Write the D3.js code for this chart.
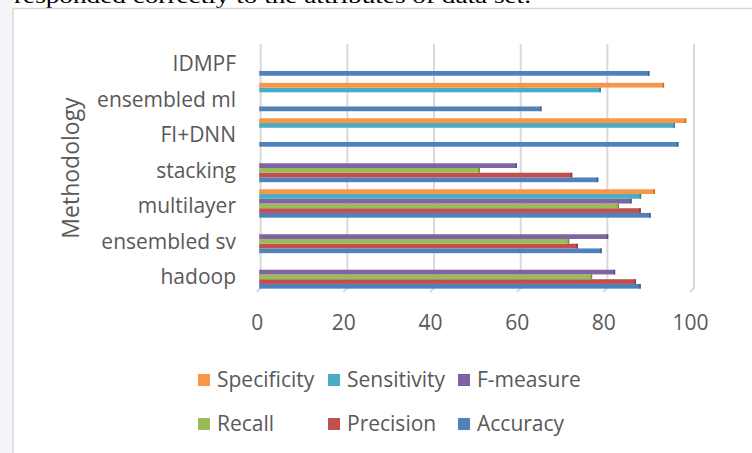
<!DOCTYPE html>
<html>
<head>
<meta charset="utf-8">
<script src="https://cdn.jsdelivr.net/npm/d3@7"></script>
<style>
  html, body { margin: 0; padding: 0; background: #ffffff; }
  svg { display: block; }
</style>
</head>
<body>
<svg id="chart" width="752" height="453"></svg>
<script>
// ---- data ----
const categories = ["hadoop", "ensembled sv", "multilayer", "stacking", "FI+DNN", "ensembled ml", "IDMPF"];
const seriesNames = ["Accuracy", "Precision", "Recall", "F-measure", "Sensitivity", "Specificity"];
const accuracy    = [87.7, 78.7, 90.0, 77.9, 96.4, 64.8, 89.7];
const precision   = [86.6, 73.2, 87.7, 71.9, null, null, null];
const recall      = [76.5, 71.2, 82.7, 50.6, null, null, null];
const fMeasure    = [81.8, 80.2, 85.6, 59.1, null, null, null];
const sensitivity = [null, null, 87.8, null, 95.6, 78.5, null];
const specificity = [null, null, 91.0, null, 98.2, 93.1, null];
const xTicks = [0, 20, 40, 60, 80, 100];
const legendRow1 = ["Specificity", "Sensitivity", "F-measure"];
const legendRow2 = ["Recall", "Precision", "Accuracy"];
const axisTitle = "Methodology";
const headerText = "responded correctly to the attributes of data set.";

const seriesValues = {
  "Accuracy": accuracy, "Precision": precision, "Recall": recall,
  "F-measure": fMeasure, "Sensitivity": sensitivity, "Specificity": specificity
};
const colors = {
  "Accuracy": "#4f81bd", "Precision": "#c0504d", "Recall": "#9bbb59",
  "F-measure": "#8064a2", "Sensitivity": "#4bacc6", "Specificity": "#f79646"
};

const svg = d3.select("#chart");
const font = "'Open Sans', 'Noto Sans', sans-serif";
const textColor = "#595959";

// faint page background artefacts
svg.append("rect").attr("x", 0).attr("y", 0).attr("width", 12).attr("height", 453)
  .attr("fill", "#eef1f6").attr("opacity", 0.7);

// header text (cut off at top, as in the reference)
svg.append("text")
  .attr("x", 14).attr("y", 3)
  .attr("font-family", "'Liberation Serif', 'DejaVu Serif', serif")
  .attr("font-size", 22)
  .attr("fill", "#000")
  .attr("textLength", 517).attr("lengthAdjust", "spacingAndGlyphs")
  .text(headerText);

// chart frame
svg.append("path")
  .attr("d", "M13,453 L13,8.5 L752,8.5")
  .attr("fill", "none").attr("stroke", "#d9d9d9").attr("stroke-width", 1.5);

// ---- scales ----
const x = d3.scaleLinear().domain([0, 100]).range([260.7, 694]);
const y = d3.scaleBand().domain(categories.slice().reverse()).range([43.8, 292.2]).paddingInner(0.2).paddingOuter(0.1);
const ySeries = d3.scaleBand().domain(seriesNames.slice().reverse()).range([0, y.bandwidth()]);

const plotTop = 44, plotBottom = 289;

// gridlines
const grid = svg.append("g");
grid.selectAll("line.g").data(xTicks).join("line")
  .attr("class", "g")
  .attr("x1", d => x(d)).attr("x2", d => x(d))
  .attr("y1", plotTop).attr("y2", plotBottom)
  .attr("stroke", "#d9d9d9").attr("stroke-width", 2);
grid.selectAll("path.h").data(xTicks).join("path")
  .attr("class", "h")
  .attr("d", d => `M${x(d)},${plotBottom - 1} L${x(d) - 4},${plotBottom + 3}`)
  .attr("fill", "none").attr("stroke", "#d9d9d9").attr("stroke-width", 2);

// bars
const barData = [];
categories.forEach((c, i) => {
  seriesNames.forEach(s => {
    const v = seriesValues[s][i];
    if (v !== null && v !== undefined) barData.push({ cat: c, series: s, value: v });
  });
});
const bars = svg.append("g");
bars.selectAll("rect").data(barData).join("rect")
  .attr("x", x(0) - 1.5)
  .attr("y", d => y(d.cat) + ySeries(d.series))
  .attr("width", d => x(d.value) - x(0) + 1.5)
  .attr("height", ySeries.bandwidth())
  .attr("fill", d => colors[d.series]);
// darker end caps for 3D look
bars.selectAll("rect.cap").data(barData).join("rect")
  .attr("class", "cap")
  .attr("x", d => x(d.value) - 1.5)
  .attr("y", d => y(d.cat) + ySeries(d.series))
  .attr("width", 1.5)
  .attr("height", ySeries.bandwidth())
  .attr("fill", d => d3.color(colors[d.series]).darker(0.8));

// x axis tick labels
svg.append("g").selectAll("text").data(xTicks).join("text")
  .attr("x", d => x(d) - 3.5)
  .attr("y", 323)
  .attr("dy", "0.35em")
  .attr("text-anchor", "middle")
  .attr("font-family", font).attr("font-size", 21)
  .attr("fill", textColor)
  .text(d => d);

// category labels
svg.append("g").selectAll("text").data(categories).join("text")
  .attr("x", 236)
  .attr("y", d => y(d) + y.bandwidth() / 2 + 2.5)
  .attr("dy", "0.35em")
  .attr("text-anchor", "end")
  .attr("font-family", font).attr("font-size", 21)
  .attr("fill", textColor)
  .text(d => d);

// axis title
svg.append("text")
  .attr("transform", "translate(79,168) rotate(-90)")
  .attr("text-anchor", "middle")
  .attr("font-family", font).attr("font-size", 23)
  .attr("fill", textColor)
  .text(axisTitle);

// legend
const legendX = [203, 333, 463];
const legendY = [380, 424];
[legendRow1, legendRow2].forEach((row, r) => {
  const g = svg.append("g");
  const items = g.selectAll("g").data(row).join("g")
    .attr("transform", (d, i) => `translate(${legendX[i]},${legendY[r]})`);
  items.append("rect")
    .attr("x", -5).attr("y", -6).attr("width", 12).attr("height", 12)
    .attr("fill", d => colors[d]);
  items.append("text")
    .attr("x", 14).attr("y", 0).attr("dy", "0.35em")
    .attr("font-family", font).attr("font-size", 21)
    .attr("fill", textColor)
    .text(d => d);
});
</script>
</body>
</html>
